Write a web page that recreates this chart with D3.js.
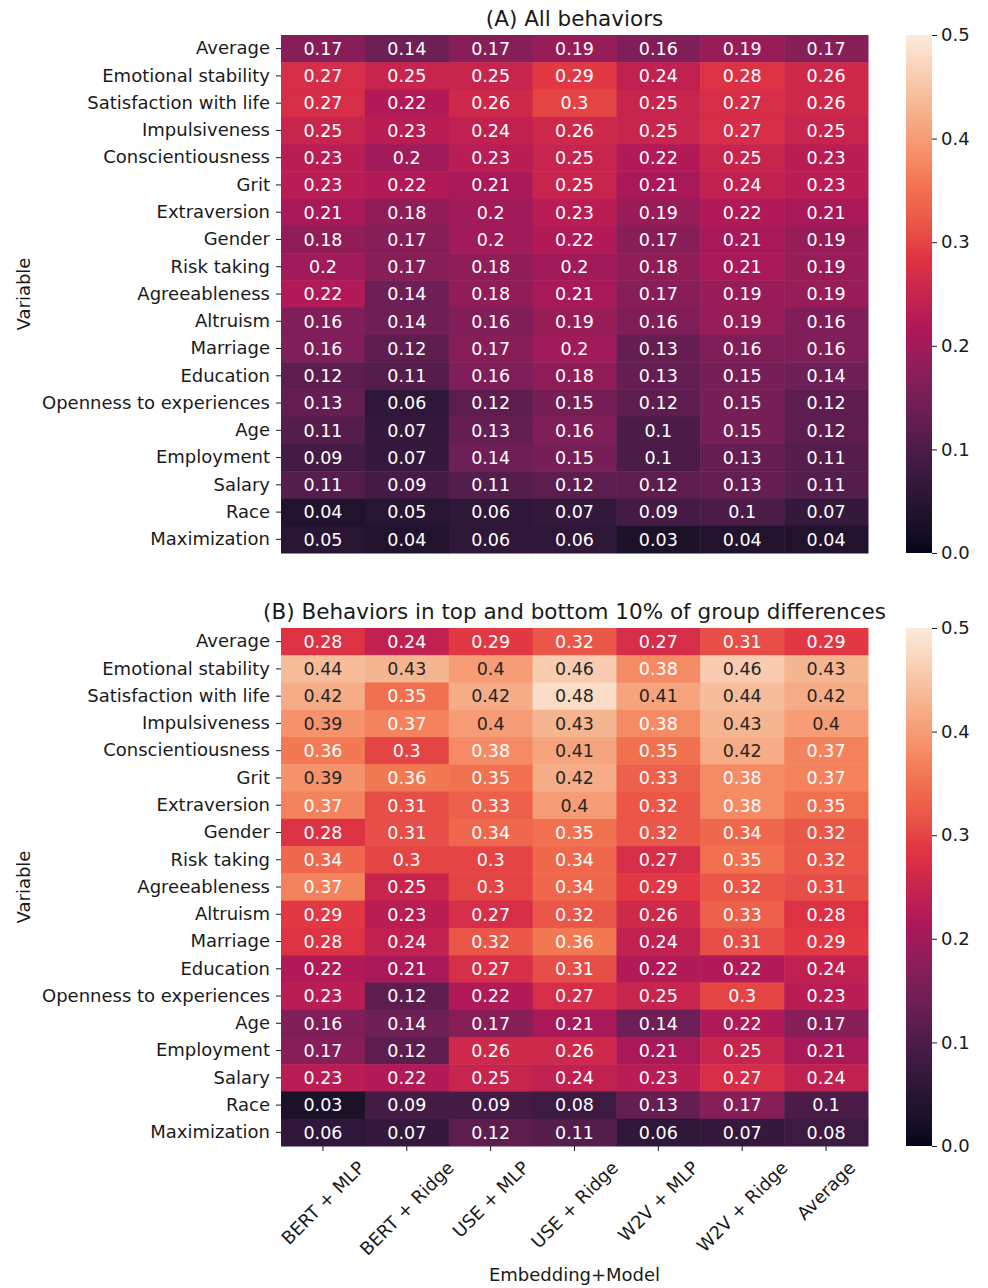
<!DOCTYPE html>
<html>
<head>
<meta charset="utf-8">
<script src="https://cdn.jsdelivr.net/npm/d3@7"></script>
<style>
  html, body { margin: 0; padding: 0; background: #fff; }
  svg { display: block; font-family: "DejaVu Sans", sans-serif; }
</style>
</head>
<body>
<svg id="chart" width="988" height="1288"></svg>
<script>
const models = ["BERT + MLP", "BERT + Ridge", "USE + MLP", "USE + Ridge", "W2V + MLP", "W2V + Ridge", "Average"];
const variables = ["Average", "Emotional stability", "Satisfaction with life", "Impulsiveness", "Conscientiousness", "Grit", "Extraversion", "Gender", "Risk taking", "Agreeableness", "Altruism", "Marriage", "Education", "Openness to experiences", "Age", "Employment", "Salary", "Race", "Maximization"];
const colorbarTicks = [0.0, 0.1, 0.2, 0.3, 0.4, 0.5];

const valuesA = [
  [0.17, 0.14, 0.17, 0.19, 0.16, 0.19, 0.17],
  [0.27, 0.25, 0.25, 0.29, 0.24, 0.28, 0.26],
  [0.27, 0.22, 0.26, 0.30, 0.25, 0.27, 0.26],
  [0.25, 0.23, 0.24, 0.26, 0.25, 0.27, 0.25],
  [0.23, 0.20, 0.23, 0.25, 0.22, 0.25, 0.23],
  [0.23, 0.22, 0.21, 0.25, 0.21, 0.24, 0.23],
  [0.21, 0.18, 0.20, 0.23, 0.19, 0.22, 0.21],
  [0.18, 0.17, 0.20, 0.22, 0.17, 0.21, 0.19],
  [0.20, 0.17, 0.18, 0.20, 0.18, 0.21, 0.19],
  [0.22, 0.14, 0.18, 0.21, 0.17, 0.19, 0.19],
  [0.16, 0.14, 0.16, 0.19, 0.16, 0.19, 0.16],
  [0.16, 0.12, 0.17, 0.20, 0.13, 0.16, 0.16],
  [0.12, 0.11, 0.16, 0.18, 0.13, 0.15, 0.14],
  [0.13, 0.06, 0.12, 0.15, 0.12, 0.15, 0.12],
  [0.11, 0.07, 0.13, 0.16, 0.10, 0.15, 0.12],
  [0.09, 0.07, 0.14, 0.15, 0.10, 0.13, 0.11],
  [0.11, 0.09, 0.11, 0.12, 0.12, 0.13, 0.11],
  [0.04, 0.05, 0.06, 0.07, 0.09, 0.10, 0.07],
  [0.05, 0.04, 0.06, 0.06, 0.03, 0.04, 0.04]
];

const valuesB = [
  [0.28, 0.24, 0.29, 0.32, 0.27, 0.31, 0.29],
  [0.44, 0.43, 0.40, 0.46, 0.38, 0.46, 0.43],
  [0.42, 0.35, 0.42, 0.48, 0.41, 0.44, 0.42],
  [0.39, 0.37, 0.40, 0.43, 0.38, 0.43, 0.40],
  [0.36, 0.30, 0.38, 0.41, 0.35, 0.42, 0.37],
  [0.39, 0.36, 0.35, 0.42, 0.33, 0.38, 0.37],
  [0.37, 0.31, 0.33, 0.40, 0.32, 0.38, 0.35],
  [0.28, 0.31, 0.34, 0.35, 0.32, 0.34, 0.32],
  [0.34, 0.30, 0.30, 0.34, 0.27, 0.35, 0.32],
  [0.37, 0.25, 0.30, 0.34, 0.29, 0.32, 0.31],
  [0.29, 0.23, 0.27, 0.32, 0.26, 0.33, 0.28],
  [0.28, 0.24, 0.32, 0.36, 0.24, 0.31, 0.29],
  [0.22, 0.21, 0.27, 0.31, 0.22, 0.22, 0.24],
  [0.23, 0.12, 0.22, 0.27, 0.25, 0.30, 0.23],
  [0.16, 0.14, 0.17, 0.21, 0.14, 0.22, 0.17],
  [0.17, 0.12, 0.26, 0.26, 0.21, 0.25, 0.21],
  [0.23, 0.22, 0.25, 0.24, 0.23, 0.27, 0.24],
  [0.03, 0.09, 0.09, 0.08, 0.13, 0.17, 0.10],
  [0.06, 0.07, 0.12, 0.11, 0.06, 0.07, 0.08]
];

// rocket colormap approximation
const rocketStops = ["#03051a", "#35193e", "#701f57", "#ad1759", "#e13342", "#f37651", "#f6b48f", "#faebdd"];
const vmin = 0, vmax = 0.5;
const color = d3.scaleLinear()
  .domain(rocketStops.map((_, i) => vmin + (vmax - vmin) * i / (rocketStops.length - 1)))
  .range(rocketStops)
  .interpolate(d3.interpolateLab)
  .clamp(true);

function relLum(c) {
  const rgb = d3.rgb(c);
  const f = v => { v /= 255; return v <= 0.03928 ? v / 12.92 : Math.pow((v + 0.055) / 1.055, 2.4); };
  return 0.2126 * f(rgb.r) + 0.7152 * f(rgb.g) + 0.0722 * f(rgb.b);
}

const svg = d3.select("#chart");
const left = 281, right = 868;
const fs = 18;
const afs = 17.5;

const panels = [
  { title: "(A) All behaviors", data: valuesA, top: 35, bottom: 553, xlabels: false },
  { title: "(B) Behaviors in top and bottom 10% of group differences", data: valuesB, top: 628, bottom: 1146, xlabels: true }
];

panels.forEach(p => {
  const g = svg.append("g");
  const x = d3.scaleBand().domain(models).range([left, right]);
  const y = d3.scaleBand().domain(variables).range([p.top, p.bottom]);

  const cells = [];
  p.data.forEach((row, i) => row.forEach((v, j) => cells.push({ r: variables[i], c: models[j], v })));

  g.selectAll("rect.cell").data(cells).join("rect")
    .attr("class", "cell")
    .attr("x", d => x(d.c)).attr("y", d => y(d.r))
    .attr("width", x.bandwidth() + 0.5).attr("height", y.bandwidth() + 0.5)
    .attr("fill", d => color(d.v));

  g.selectAll("text.annot").data(cells).join("text")
    .attr("class", "annot")
    .attr("x", d => x(d.c) + x.bandwidth() / 2)
    .attr("y", d => y(d.r) + y.bandwidth() / 2)
    .attr("dy", "0.36em")
    .attr("text-anchor", "middle")
    .attr("font-size", afs)
    .attr("fill", d => relLum(color(d.v)) > 0.408 ? "#262626" : "#ffffff")
    .text(d => String(+d.v.toFixed(2)));

  // y axis
  const yAxis = d3.axisLeft(y).tickSize(5).tickPadding(6);
  const ya = g.append("g").attr("transform", `translate(${left},0)`).call(yAxis);
  ya.select(".domain").remove();
  ya.selectAll("text").attr("font-size", fs).attr("fill", "#1a1a1a").attr("font-family", "DejaVu Sans, sans-serif");
  ya.selectAll("line").attr("stroke", "#1a1a1a").attr("stroke-width", 1);

  // y label
  g.append("text")
    .attr("transform", `translate(30,${(p.top + p.bottom) / 2}) rotate(-90)`)
    .attr("text-anchor", "middle")
    .attr("font-size", fs).attr("fill", "#1a1a1a")
    .text("Variable");

  // title
  g.append("text")
    .attr("x", (left + right) / 2).attr("y", p.top - 9)
    .attr("text-anchor", "middle")
    .attr("font-size", 21.5).attr("fill", "#1a1a1a")
    .text(p.title);

  // x axis
  if (p.xlabels) {
    const xa = g.append("g").attr("transform", `translate(0,${p.bottom})`)
      .call(d3.axisBottom(x).tickSize(5).tickFormat(""));
    xa.select(".domain").remove();
    xa.selectAll("line").attr("stroke", "#1a1a1a");
    const labelTop = p.bottom + 12;
    models.forEach(m => {
      const t = g.append("text")
        .attr("font-size", fs).attr("fill", "#1a1a1a")
        .attr("text-anchor", "middle")
        .attr("dy", "0.35em")
        .text(m);
      const w = t.node().getComputedTextLength();
      const h = fs * 1.0;
      const bb = (w + h) * Math.SQRT1_2;
      const cx = x(m) + x.bandwidth() / 2;
      const cy = labelTop + bb / 2;
      t.attr("transform", `translate(${cx},${cy}) rotate(-45)`);
    });
    g.append("text")
      .attr("x", (left + right) / 2).attr("y", 1281)
      .attr("text-anchor", "middle")
      .attr("font-size", fs).attr("fill", "#1a1a1a")
      .text("Embedding+Model");
  }

  // colorbar
  const cbX = 906, cbW = 26;
  const cy = d3.scaleLinear().domain([vmin, vmax]).range([p.bottom, p.top]);
  const gradId = "grad" + p.top;
  const grad = svg.append("defs").append("linearGradient")
    .attr("id", gradId).attr("x1", 0).attr("y1", 1).attr("x2", 0).attr("y2", 0);
  d3.range(0, 1.0001, 0.02).forEach(t => {
    grad.append("stop").attr("offset", t).attr("stop-color", color(vmin + t * (vmax - vmin)));
  });
  g.append("rect").attr("x", cbX).attr("y", p.top).attr("width", cbW).attr("height", p.bottom - p.top)
    .attr("fill", `url(#${gradId})`);
  const ca = g.append("g").attr("transform", `translate(${cbX + cbW},0)`)
    .call(d3.axisRight(cy).tickValues(colorbarTicks).tickSize(5).tickPadding(4).tickFormat(d3.format(".1f")));
  ca.select(".domain").remove();
  ca.selectAll("text").attr("font-size", fs).attr("fill", "#1a1a1a").attr("font-family", "DejaVu Sans, sans-serif");
  ca.selectAll("line").attr("stroke", "#1a1a1a");
});
</script>
</body>
</html>
